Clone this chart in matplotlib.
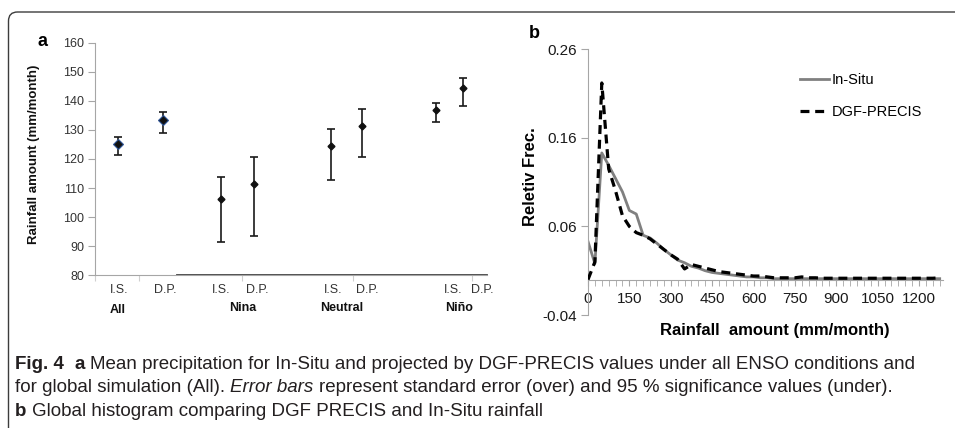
import matplotlib
matplotlib.use("Agg")
import matplotlib.pyplot as plt
import matplotlib.patches as mpatches
from matplotlib import font_manager
import numpy as np

# ---- panel a data: mean rainfall (mm/month) with asymmetric error bars
groups = ["All", "Nina", "Neutral", "Niño"]
series_labels = ["I.S.", "D.P.", "I.S.", "D.P.", "I.S.", "D.P.", "I.S.", "D.P."]
means = [125.3, 133.3, 106.2, 111.3, 124.5, 131.4, 136.9, 144.5]
upper = [127.5, 136.3, 113.9, 120.6, 130.4, 137.1, 139.3, 147.7]   # standard error (over)
lower = [121.4, 128.8, 91.6, 93.6, 112.8, 120.6, 132.8, 138.3]    # 95 % significance (under)
a_yticks = [80, 90, 100, 110, 120, 130, 140, 150, 160]

# ---- panel b data: relative frequency histogram (25 mm bins)
rain_mm = [0, 25, 50, 75, 100, 125, 150, 175, 200, 225, 250, 275, 300, 325,
           350, 375, 400, 425, 450, 475, 500, 525, 550, 575, 600, 625, 650,
           675, 700, 725, 750, 775, 800, 825, 850, 875, 900, 925, 950, 975,
           1000, 1025, 1050, 1075, 1100, 1125, 1150, 1175, 1200, 1225, 1250, 1275]
in_situ = [0.043, 0.018, 0.143, 0.129, 0.114, 0.099, 0.078, 0.074, 0.050, 0.047,
           0.041, 0.034, 0.028, 0.022, 0.019, 0.015, 0.013, 0.010, 0.008, 0.007,
           0.006, 0.005, 0.004, 0.003, 0.003, 0.002, 0.002, 0.001, 0.001, 0.001,
           0.001, 0.001, 0.001, 0.001, 0.001, 0.001, 0.001, 0.001, 0.001, 0.001,
           0.001, 0.001, 0.001, 0.001, 0.001, 0.001, 0.001, 0.001, 0.001, 0.001,
           0.001, 0.001]
dgf_precis = [0.000, 0.020, 0.222, 0.125, 0.100, 0.072, 0.060, 0.053, 0.050, 0.046,
              0.040, 0.034, 0.028, 0.023, 0.012, 0.017, 0.015, 0.013, 0.011, 0.009,
              0.008, 0.007, 0.006, 0.005, 0.004, 0.004, 0.003, 0.002, 0.002, 0.002,
              0.002, 0.003, 0.002, 0.002, 0.0015, 0.0015, 0.0015, 0.0015, 0.0015, 0.0015,
              0.0015, 0.0015, 0.0015, 0.0015, 0.0015, 0.0015, 0.0015, 0.0015, 0.0015, 0.0015,
              0.0015, 0.002]
b_xticks = [0, 150, 300, 450, 600, 750, 900, 1050, 1200]
b_yticks = [-0.04, 0.06, 0.16, 0.26]

W, H = 955, 428
fig = plt.figure(figsize=(W / 100, H / 100), dpi=100)
plt.rcParams["font.family"] = ["Liberation Sans", "DejaVu Sans"]

def box(left, top, right, bottom):
    return [left / W, 1 - bottom / H, (right - left) / W, (bottom - top) / H]

AXC = "#a6a6a6"

# ---------------- panel a ----------------
ax = fig.add_axes(box(95, 42.7, 487, 275.3))
pt_x = [0.53, 1.56, 2.89, 3.65, 5.41, 6.12, 7.84, 8.46]
lab_x = [0.55, 1.61, 2.89, 3.72, 5.46, 6.24, 8.23, 8.90]
grp_x = [0.53, 3.39, 5.67, 8.35]

m = np.array(means)
yerr = [m - np.array(lower), np.array(upper) - m]
ax.errorbar(pt_x, means, yerr=yerr, fmt="none", ecolor="#1a1a1a",
            elinewidth=1.2, capsize=3, capthick=1.2, zorder=2)
ax.plot(pt_x[:2], means[:2], "D", ms=5.5, mfc="#111111", mec="#2f5597", mew=0.8, zorder=3)
ax.plot(pt_x[2:], means[2:], "D", ms=3.5, color="#111111", zorder=3)

ax.set_xlim(0, 9)
ax.set_ylim(80, 160)
ax.set_yticks(a_yticks)
ax.tick_params(axis="y", length=5, color=AXC, labelsize=9, labelcolor="#333333", pad=3)
ax.set_xticks([0, 1.01, 3.37, 5.92, 8.65])
ax.set_xticklabels([])
ax.tick_params(axis="x", which="major", length=4, color="#cfcfcf")
ax.set_xticks(lab_x, minor=True)
ax.set_xticklabels(series_labels, minor=True)
ax.tick_params(axis="x", which="minor", length=0, labelsize=9, labelcolor="#333333", pad=6)
for s in ["top", "right"]:
    ax.spines[s].set_visible(False)
ax.spines["left"].set_color(AXC)
ax.spines["bottom"].set_color(AXC)
ax.plot([0.209, 1], [0, 0], transform=ax.transAxes, color="#404040", lw=1.3, clip_on=False)
for gx, g in zip(grp_x, groups):
    yy = -0.15 if g == "All" else -0.142
    ax.text(gx, yy, g, transform=ax.get_xaxis_transform(), ha="center", va="center",
            fontsize=9, fontweight="bold", color="#111111")
ax.set_ylabel("Rainfall amount (mm/month)", fontsize=9.5, fontweight="bold", color="#111111")
ax.yaxis.set_label_coords(-0.14, 0.52)

# ---------------- panel b ----------------
bx = fig.add_axes(box(588, 49.3, 943, 315))
bx.plot(rain_mm, in_situ, color="#808080", lw=2, label="In-Situ", zorder=2)
bx.plot(rain_mm, dgf_precis, color="black", lw=2.3, ls=(0, (2.8, 1.8)), label="DGF-PRECIS", zorder=3)
bx.set_xlim(0, 1287)
bx.set_ylim(-0.04, 0.26)
bx.set_yticks(b_yticks)
bx.set_yticklabels([f"{v:.2f}" for v in b_yticks])
bx.set_xticks(b_xticks)
bx.set_xticks(np.arange(0, 1287, 25), minor=True)
bx.spines["bottom"].set_position(("data", 0))
for s in ["top", "right"]:
    bx.spines[s].set_visible(False)
bx.spines["left"].set_color(AXC)
bx.spines["bottom"].set_color(AXC)
bx.tick_params(axis="y", length=5, color=AXC, labelsize=11, labelcolor="#1a1a1a", pad=3)
bx.tick_params(axis="x", which="both", length=4, color=AXC, labelsize=11, labelcolor="#1a1a1a", pad=5)
bx.set_xlabel("Rainfall  amount (mm/month)", fontsize=12, fontweight="bold")
bx.xaxis.set_label_coords(0.527, -0.03)
bx.set_ylabel("Reletiv Frec.", fontsize=12, fontweight="bold")
bx.yaxis.set_label_coords(-0.14, 0.52)
bx.legend(loc="upper left", bbox_to_anchor=(0.597, 0.91), frameon=False, fontsize=10.5,
          handlelength=2.0, handletextpad=0.15, labelspacing=1.25, borderpad=0, borderaxespad=0)

fig.text(42 / W, 1 - 41 / H, "a", fontsize=13, fontweight="bold", ha="center", va="center")
fig.text(534 / W, 1 - 33 / H, "b", fontsize=13, fontweight="bold", ha="center", va="center")

# ---------------- frame ----------------
frame = mpatches.FancyBboxPatch((0.085, -0.3), 12, 4.16 + 0.3,
                                boxstyle="round,pad=0,rounding_size=0.09",
                                transform=fig.dpi_scale_trans, fill=False,
                                ec="#3c3c3c", lw=1.0)
fig.patches.append(frame)

# ---------------- caption ----------------
names = {f.name for f in font_manager.fontManager.ttflist}
cap_family = "Liberation Sans Narrow" if "Liberation Sans Narrow" in names else "Liberation Sans"
renderer = fig.canvas.get_renderer()
caption = [
    (369, [("Fig. 4", "bold", "normal", 2.0), ("a", "bold", "normal", 1.0),
           ("Mean precipitation for In-Situ and projected by DGF-PRECIS values under all ENSO conditions and",
            "normal", "normal", 0)]),
    (392.5, [("for global simulation (All).", "normal", "normal", 1.0), ("Error bars", "normal", "italic", 1.0),
             ("represent standard error (over) and 95 % significance values (under).", "normal", "normal", 0)]),
    (415.5, [("b", "bold", "normal", 1.0),
             ("Global histogram comparing DGF PRECIS and In-Situ rainfall", "normal", "normal", 0)]),
]

def draw_caption(size):
    made = []
    sp = fig.text(0, 0, "x x", fontsize=size, family=cap_family)
    nsp = fig.text(0, 0, "xx", fontsize=size, family=cap_family)
    space = sp.get_window_extent(renderer).width - nsp.get_window_extent(renderer).width
    sp.remove()
    nsp.remove()
    ends = []
    for ypx, runs in caption:
        x = 15
        for s, w, st, gap in runs:
            t = fig.text(x / W, 1 - ypx / H, s, fontsize=size, fontweight=w, fontstyle=st,
                         family=cap_family, ha="left", va="baseline", color="#231f20")
            made.append(t)
            x += t.get_window_extent(renderer).width + gap * space
        ends.append(x)
    return made, ends

size0 = 12.6
made, ends = draw_caption(size0)
size1 = size0 * (929 - 15) / (ends[0] - 15)
for t in made:
    t.remove()
draw_caption(min(size1, 13.5))

fig.savefig("out.png", dpi=100)
